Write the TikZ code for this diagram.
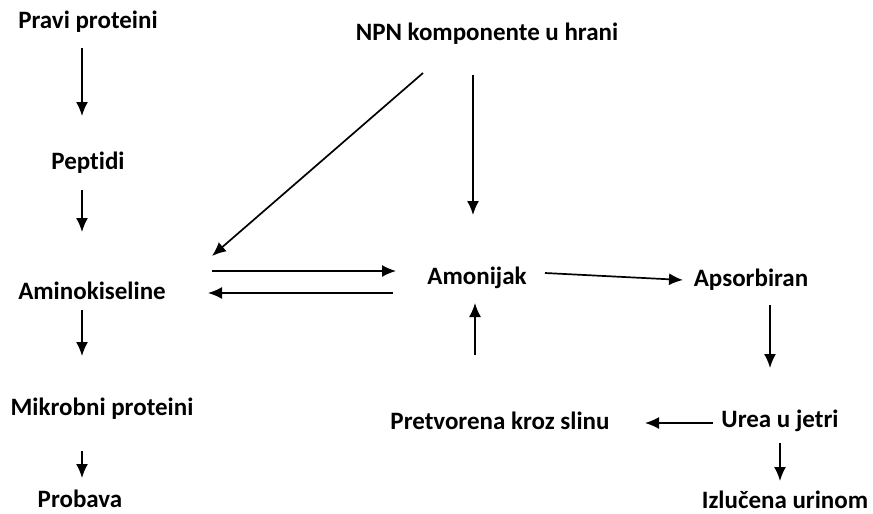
\documentclass[tikz,border=0pt]{standalone}
\usepackage{fontspec}
\setmainfont{Carlito}[Ligatures=NoCommon]
\usetikzlibrary{arrows.meta}

\begin{document}
\begin{tikzpicture}[x=1pt, y=-1pt, >={Latex[length=14pt,width=12pt]},
	lbl/.style={inner sep=0pt, font=\fontsize{25}{28}\selectfont\bfseries},
	arr/.style={->, line width=1.7pt}
]
\path[use as bounding box] (0,0) rectangle (873,514);

% left column
\node[lbl] (pravi) at (88,22) {Pravi proteini};
\node[lbl] (peptidi) at (88,163) {Peptidi};
\node[lbl] (amino) at (92,291) {Aminokiseline};
\node[lbl] (mikro) at (102,409) {Mikrobni proteini};
\node[lbl] (probava) at (80,499) {Probava};

% right part
\node[lbl] (npn) at (487,34) {NPN komponente u hrani};
\node[lbl] (amonijak) at (477,278) {Amonijak};
\node[lbl] (apsorb) at (751,280) {Apsorbiran};
\node[lbl] (pretv) at (500,421) {Pretvorena kroz slinu};
\node[lbl] (urea) at (780,421) {Urea u jetri};
\node[lbl] (izluc) at (785,500) {Izlučena urinom};

\draw[arr] ([shift={(-6,26)}]pravi.center) -- ([shift={(-6,-47)}]peptidi.center);
\draw[arr] ([shift={(-6,27)}]peptidi.center) -- ([shift={(-10,-59)}]amino.center);
\draw[arr] ([shift={(-10,19)}]amino.center) -- ([shift={(-20,-53)}]mikro.center);
\draw[arr] ([shift={(-20,42)}]mikro.center) -- ([shift={(2,-21)}]probava.center);

\draw[arr] ([shift={(-64,39)}]npn.center) -- ([shift={(120,-35)}]amino.center);
\draw[arr] ([shift={(-14,41)}]npn.center) -- ([shift={(-4,-63)}]amonijak.center);
\draw[arr] ([shift={(120,-20)}]amino.center) -- ([shift={(-81,-7)}]amonijak.center);
\draw[arr] ([shift={(-84,15)}]amonijak.center) -- ([shift={(116,2)}]amino.center);
\draw[arr] ([shift={(68,-5)}]amonijak.center) -- ([shift={(-68,0)}]apsorb.center);

\draw[arr] ([shift={(19,25)}]apsorb.center) -- ([shift={(-10,-53)}]urea.center);
\draw[arr] ([shift={(-67,2)}]urea.center) -- ([shift={(145,2)}]pretv.center);
\draw[arr] ([shift={(-25,-66)}]pretv.center) -- ([shift={(-2,25)}]amonijak.center);
\draw[arr] ([shift={(0,22)}]urea.center) -- ([shift={(-5,-19)}]izluc.center);
\end{tikzpicture}
\end{document}
